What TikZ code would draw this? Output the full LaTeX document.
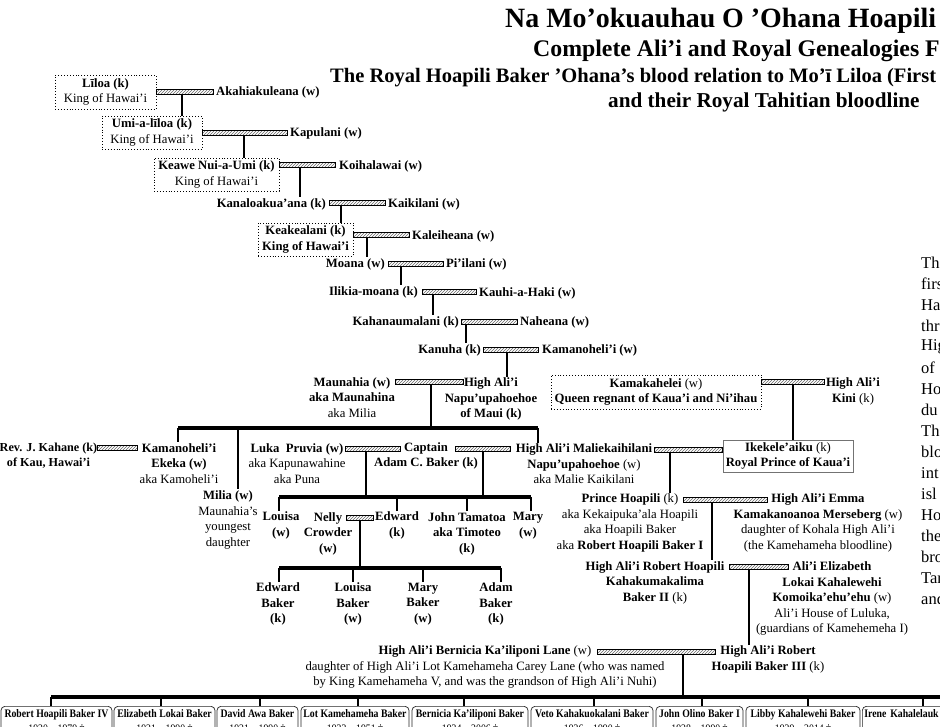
\documentclass[tikz,border=0pt]{standalone}
\usepackage{fontspec}
\setmainfont{Liberation Serif}
\newfontfamily\condfont[FakeStretch=0.85]{Liberation Serif}
\usetikzlibrary{patterns}
\newcommand\nfs{\fontsize{12.7}{15.5}\selectfont}
\newcommand\kfs{\condfont\fontsize{11.5}{14.5}\selectfont}
\newcommand\pfs{\fontsize{16.5}{21}\selectfont}
\newcommand\desc[3]{\draw[ln] ([xshift=#2pt]#1.south) coordinate (tmp) -- (tmp |- #3.north);}
\newcommand\descj[3]{\draw[ln] ([xshift=#2pt]#1.south) coordinate (tmp) -- (tmp |- #3);}
\begin{document}
\begin{tikzpicture}[x=1pt,y=-1pt,
  txt/.style={font=\nfs, inner sep=1pt, align=center},
  btxt/.style={txt, font=\nfs\bfseries},
  kbox/.style={txt, draw, dotted, line width=0.9pt},
  bar/.style={draw, line width=0.5pt, pattern=north east lines, pattern color=black!60, minimum height=5, minimum width=#1, inner sep=0},
  ln/.style={line width=1.3pt},
  thk/.style={line width=4pt},
  dropln/.style={line width=1.6pt},
  kid/.style={draw=black!85, line width=0.7pt, rounded corners=4pt, font=\kfs, inner xsep=2pt, inner ysep=3.5pt, anchor=north, align=center},
  para/.style={font=\pfs, anchor=west, inner sep=0},
  ttl/.style={anchor=base west, inner sep=0, font=\bfseries}
]
\useasboundingbox (0,0) rectangle (940,726);
\fill[white] (0,0) rectangle (940,726);
\clip (0,0) rectangle (940,726);

% ---------- titles ----------
\node[ttl, font=\fontsize{27.9}{30}\selectfont\bfseries] (t1) at (505,27) {Na Mo’okuauhau O ’Ohana Hoapili};
\node[ttl, font=\fontsize{23.8}{25}\selectfont\bfseries] (t2) at (533,56) {Complete Ali’i and Royal Genealogies F};
\node[ttl, font=\fontsize{20.5}{22}\selectfont\bfseries] (t3) at (330,82) {The Royal Hoapili Baker ’Ohana’s blood relation to Mo’ī Liloa (First};
\node[ttl, font=\fontsize{21.2}{22}\selectfont\bfseries] (t4) at (608,107) {and their Royal Tahitian bloodline};

% ---------- kings line ----------
\node[kbox, minimum width=101, minimum height=34] (liloa) at (105.5,92) {\textbf{Līloa (k)}\\King of Hawai’i};
\node[bar=57] (b1) at (184.5,91.5) {};
\node[btxt, anchor=west] (akah) at (215,92) {Akahiakuleana (w)};

\node[kbox, minimum width=100, minimum height=33] (umi) at (152,132.5) {\textbf{Umi-a-līloa (k)}\\King of Hawai’i};
\node[bar=85] (b2) at (244.5,132.5) {};
\node[btxt, anchor=west] (kapu) at (289,133) {Kapulani (w)};

\node[kbox, minimum width=125, minimum height=33] (keawe) at (216.5,174.5) {\textbf{Keawe Nui-a-Umi (k)}\\King of Hawai’i};
\node[bar=56] (b3) at (307,165) {};
\node[btxt, anchor=west] (koih) at (338,166) {Koihalawai (w)};

\node[btxt, anchor=east] (kanal) at (327,204) {Kanaloakua’ana (k)};
\node[bar=56] (b4) at (357,202.5) {};
\node[btxt, anchor=west] (kaik) at (387,204) {Kaikilani (w)};

\node[kbox, font=\nfs\bfseries, minimum width=95, minimum height=33] (keake) at (305.5,239.5) {Keakealani (k)\\King of Hawai’i};
\node[bar=56] (b5) at (381,234.5) {};
\node[btxt, anchor=west] (kalei) at (411,236) {Kaleiheana (w)};

\node[btxt, anchor=east] (moana) at (386,264) {Moana (w)};
\node[bar=55] (b6) at (415.5,263.5) {};
\node[btxt, anchor=west] (piil) at (445,264) {Pi’ilani (w)};

\node[btxt, anchor=east] (ilik) at (419,292) {Ilikia-moana (k)};
\node[bar=54] (b7) at (449,291.5) {};
\node[btxt, anchor=west] (kauhi) at (478,293) {Kauhi-a-Haki (w)};

\node[btxt, anchor=east] (kahan) at (460,322) {Kahanaumalani (k)};
\node[bar=56] (b8) at (489,321.5) {};
\node[btxt, anchor=west] (nahe) at (519,322) {Naheana (w)};

\node[btxt, anchor=east] (kanuha) at (482,350) {Kanuha (k)};
\node[bar=55] (b9) at (510.5,349.5) {};
\node[btxt, anchor=west] (kamw) at (541,350) {Kamanoheli’i (w)};

\node[txt] (maun) at (352,397.5) {\textbf{Maunahia (w)}\\\textbf{aka Maunahina}\\aka Milia};
\node[bar=68] (b10) at (429,381.5) {};
\node[btxt] (napu) at (491,399) {High Ali’i\\Napu’upahoehoe\\of Maui (k)};

\node[kbox, minimum width=210, minimum height=34] (kamak) at (656,392) {\textbf{Kamakahelei} (w)\\\textbf{Queen regnant of Kaua’i and Ni’ihau}};
\node[bar=63] (b15) at (792.5,381.5) {};
\node[txt] (kini) at (853,391.5) {\textbf{High Ali’i}\\\textbf{Kini} (k)};

\desc{b1}{-2.5}{umi}
\desc{b2}{-0.5}{keawe}
\desc{b3}{-7}{kanal}
\desc{b4}{-16}{keake}
\desc{b5}{-14}{moana}
\desc{b6}{-14.5}{ilik}
\desc{b7}{-16}{kahan}
\desc{b8}{-23}{kanuha}
\desc{b9}{-3.5}{napu}

% ---------- Maunahia's children ----------
\node[btxt, font=\fontsize{12.2}{15.5}\selectfont\bfseries] (kahane) at (48.5,455.5) {Rev. J. Kahane (k)\\of Kau, Hawai’i};
\node[bar=40] (b11) at (117,448) {};
\node[txt] (ekeka) at (179,463.5) {\textbf{Kamanoheli’i}\\\textbf{Ekeka (w)}\\aka Kamoheli’i};
\node[txt] (milia) at (228,520) {\textbf{Milia (w)}\\Maunahia’s\\youngest\\daughter};
\node[txt] (luka) at (297,463.5) {\textbf{Luka\ \ Pruvia (w)}\\aka Kapunawahine\\aka Puna};
\node[bar=55] (b12) at (372.5,448.5) {};
\node[btxt] (adam) at (426,456) {Captain\\Adam C. Baker (k)};
\node[bar=55] (b13) at (482.5,448.5) {};
\node[txt] (malie) at (584,464) {\textbf{High Ali’i Maliekaihilani}\\\textbf{Napu’upahoehoe} (w)\\aka Malie Kaikilani};
\node[bar=68] (b14) at (688,449.5) {};
\node[txt, draw=black!55, line width=0.6pt, minimum width=130, minimum height=32] (ikek) at (788,456) {\textbf{Ikekele’aiku} (k)\\\textbf{Royal Prince of Kaua’i}};

\desc{b15}{0.5}{ikek}

\coordinate (j1w) at (178,428);
\coordinate (j1m) at (238,428);
\coordinate (j1e) at (538,428);
\descj{b10}{2}{j1w}
\draw[thk] (j1w) -- (j1e);
\draw[dropln] (j1w) -- (j1w |- ekeka.north);
\draw[dropln] (j1m) -- ([yshift=1pt]j1m |- milia.north);
\draw[dropln] (j1e) -- (j1e |- malie.north);

% ---------- Adam C. Baker's children ----------
\node[btxt] (louisa) at (281,525.5) {Louisa\\(w)};
\node[btxt] (nelly) at (328,533.5) {Nelly\\Crowder\\(w)};
\node[bar=27] (b16) at (359.5,518) {};
\node[btxt] (edward) at (397,525.5) {Edward\\(k)};
\node[btxt] (john) at (467,533.5) {John Tamatoa\\aka Timoteo\\(k)};
\node[btxt] (mary) at (528,525.5) {Mary\\(w)};

\coordinate (j2w) at (279,497);
\coordinate (j2e) at (531,497);
\descj{b12}{-6.5}{j2w}
\descj{b13}{0.5}{j2w}
\draw[thk] (j2w) -- (j2e);
\draw[dropln] (j2w) -- (j2w |- louisa.north);
\draw[dropln] (edward.north |- j2w) -- (edward.north);
\draw[dropln] (john.north |- j2w) -- (john.north);
\draw[dropln] (j2e) -- (j2e |- mary.north);

% ---------- Edward's children ----------
\node[btxt] (edb) at (278,604) {Edward\\Baker\\(k)};
\node[btxt] (lob) at (353,604) {Louisa\\Baker\\(w)};
\node[btxt] (mab) at (423,604) {Mary\\Baker\\(w)};
\node[btxt] (adb) at (496,604) {Adam\\Baker\\(k)};

\coordinate (j3w) at (279,568);
\coordinate (j3e) at (501,568);
\descj{b16}{0.5}{j3w}
\draw[thk] (j3w) -- (j3e);
\draw[dropln] (j3w) -- (j3w |- edb.north);
\draw[dropln] (lob.north |- j3w) -- (lob.north);
\draw[dropln] (mab.north |- j3w) -- (mab.north);
\draw[dropln] (j3e) -- (j3e |- adb.north);

% ---------- Hoapili line ----------
\node[txt] (prince) at (630,523) {\textbf{Prince Hoapili} (k)\\aka Kekaipuka’ala Hoapili\\aka Hoapili Baker\\aka \textbf{Robert Hoapili Baker I}};
\node[bar=84] (b17) at (725,499.5) {};
\node[txt] (emma) at (818,523) {\textbf{High Ali’i Emma}\\\textbf{Kamakanoanoa Merseberg} (w)\\daughter of Kohala High Ali’i\\(the Kamehameha bloodline)};
\desc{b14}{-18}{prince}

\node[txt] (rob2) at (655,582.5) {\textbf{High Ali’i Robert Hoapili}\\\textbf{Kahakumakalima}\\\textbf{Baker II} (k)};
\node[bar=59] (b18) at (758.5,566.5) {};
\node[txt] (eliz) at (832,598.5) {\textbf{Ali’i Elizabeth}\\\textbf{Lokai Kahalewehi}\\\textbf{Komoika’ehu’ehu} (w)\\Ali’i House of Luluka,\\(guardians of Kamehemeha I)};
\desc{b17}{-13}{rob2}

\node[txt] (bern) at (485,667) {\textbf{High Ali’i Bernicia Ka’iliponi Lane} (w)\\daughter of High Ali’i Lot Kamehameha Carey Lane (who was named\\by King Kamehameha V, and was the grandson of High Ali’i Nuhi)};
\node[bar=118] (b19) at (656,651.5) {};
\node[txt] (rob3) at (768,659.5) {\textbf{High Ali’i Robert}\\\textbf{Hoapili Baker III} (k)};
\desc{b18}{-9.5}{rob3}

% ---------- last generation ----------
\node[kid, minimum width=111] (k1) at (56.5,706) {\textbf{Robert Hoapili Baker IV}\\1920 – 1979 †};
\node[kid, minimum width=101] (k2) at (164.5,706) {\textbf{Elizabeth Lokai Baker}\\1921 – 1990 †};
\node[kid, minimum width=81] (k3) at (257.5,706) {\textbf{David Awa Baker}\\1921 – 1990 †};
\node[kid, minimum width=108] (k4) at (355,706) {\textbf{Lot Kamehameha Baker}\\1922 – 1951 †};
\node[kid, minimum width=116] (k5) at (470,706) {\textbf{Bernicia Ka’iliponi Baker}\\1924 – 2006 †};
\node[kid, minimum width=122] (k6) at (592,706) {\textbf{Veto Kahakuokalani Baker}\\1926 – 1990 †};
\node[kid, minimum width=87] (k7) at (699.5,706) {\textbf{John Olino Baker I}\\1928 – 1990 †};
\node[kid, minimum width=114] (k8) at (803,706) {\textbf{Libby Kahalewehi Baker}\\1929 – 2014 †};
\node[kid, anchor=north west, align=left, text width=124] (k9) at (862,706) {\textbf{Irene Kahalelauk}\\\strut};

\coordinate (j4w) at (51,697);
\coordinate (j4e) at (950,697);
\descj{b19}{27}{j4w}
\draw[thk] (j4w) -- (j4e);
\foreach \xx/\kk in {51/k1,161/k2,260/k3,358/k4,464/k5,594/k6,702/k7,808/k8,923/k9}{
  \coordinate (dd) at (\xx,697);
  \draw[dropln] (dd) -- (dd |- \kk.north);
}

% ---------- right-hand text (cut at the edge) ----------
\foreach \w [count=\i from 0] in {Th,firs,Ha,thr,Hig,of,Ho,du,Th,blo,int,isl,Ho,the,bro,Tar,and}{
  \node[para] (p\i) at (921,263+21*\i) {\w};
}
\end{tikzpicture}
\end{document}
